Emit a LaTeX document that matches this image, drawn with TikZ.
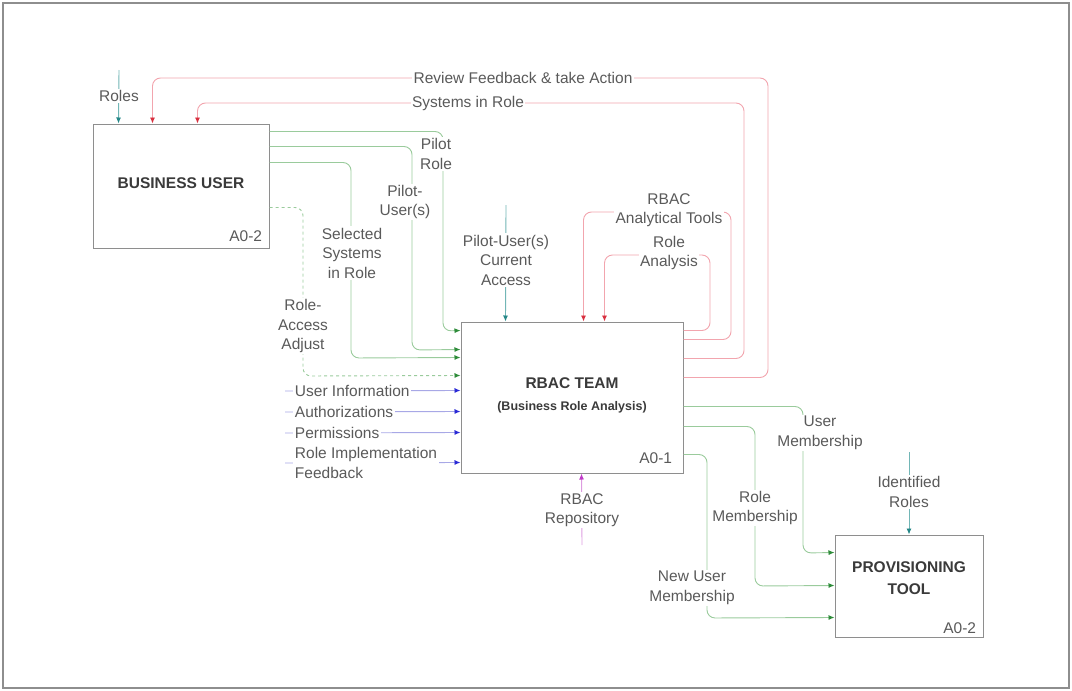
\documentclass[tikz,border=0pt]{standalone}
\usepackage{fontspec}
\setsansfont{Liberation Sans}
\usepackage{xcolor}
\usetikzlibrary{
	arrows.meta,
	positioning,
	calc}
\definecolor{fbline}{HTML}{F2A5AE}
\definecolor{fbtip}{HTML}{D8303F}
\definecolor{flowline}{HTML}{9ACB9C}
\definecolor{flowtip}{HTML}{2E8C3A}
\definecolor{inline}{HTML}{A8A8E6}
\definecolor{intip}{HTML}{2A2AD6}
\definecolor{ctrlline}{HTML}{72B6B6}
\definecolor{ctrltip}{HTML}{268888}
\definecolor{mechline}{HTML}{DD9CE0}
\definecolor{mechtip}{HTML}{C03CC8}
\definecolor{boxgray}{HTML}{8E8E8E}
\definecolor{labelgray}{HTML}{5A5A5A}
\definecolor{titlegray}{HTML}{3A3A3A}
\tikzset{
	idef/.style={
		x=1pt, y=-1pt,
		line width=.9pt,
		font=\sffamily\fontsize{15.5}{19.5}\selectfont,
		},
	tip length/.store in=\tlen,
	tip length = 6pt,
	tip width/.store in=\twid,
	tip width = 5pt,
	corner size/.store in=\csize,
	corner size = 8pt,
	activity/.style={
		draw = boxgray,
		fill = white,
		line width = 1pt,
		inner sep = 0pt
	},
	box title/.style={
		align = center,
		text = titlegray,
		font = \sffamily\bfseries\fontsize{15.5}{23}\selectfont
	},
	box number/.style={
		anchor = base east,
		inner sep = 0pt,
		text = labelgray
	},
	arrow label/.style={
		fill = white,
		inner sep = 1.5pt,
		align = center,
		text = labelgray
	},
	feedback arrow/.style={
		draw = fbline,
		rounded corners = \csize,
		-{Latex[length=\tlen, width=\twid, color=fbtip]}
	},
	flow arrow/.style={
		draw = flowline,
		rounded corners = \csize,
		-{Latex[length=\tlen, width=\twid, color=flowtip]}
	},
	input arrow/.style={
		draw = inline,
		-{Latex[length=\tlen, width=\twid, color=intip]}
	},
	control arrow/.style={
		draw = ctrlline,
		-{Latex[length=\tlen, width=\twid, color=ctrltip]}
	},
	mechanism arrow/.style={
		draw = mechline,
		-{Latex[length=\tlen, width=\twid, color=mechtip]}
	},
}

\begin{document}
\begin{tikzpicture}[idef]
	\useasboundingbox (0,0) rectangle (1072,691);
	\draw[boxgray, line width=2.5pt] (3,3) rectangle (1069,688);
%
	\node[activity, minimum width=176pt, minimum height=124pt] (bu)   at (181,186)   {};
	\node[activity, minimum width=222pt, minimum height=151pt] (rbac) at (572,397.5) {};
	\node[activity, minimum width=148pt, minimum height=102pt] (pt)   at (909,586)   {};
	\node[box title] (butitle)   at ($(bu.center)+(0,-3)$)   {BUSINESS USER};
	\node[box title] (rbactitle) at ($(rbac.center)+(0,-2)$) {RBAC TEAM\\[-1pt]{\fontsize{12.5}{15}\selectfont (Business Role Analysis)}};
	\node[box title] (pttitle)   at ($(pt.center)+(0,-8)$)   {PROVISIONING\\[-1pt]TOOL};
	\node[box number] (bunum)   at ($(bu.south east)+(-7,-7)$)    {A0-2};
	\node[box number] (rbacnum) at ($(rbac.south east)+(-11,-10)$) {A0-1};
	\node[box number] (ptnum)   at ($(pt.south east)+(-7,-4)$)    {A0-2};
%
	\coordinate (rolestop)   at (119,70);
	\coordinate (accesstop)  at (506,205);
	\coordinate (identtop)   at (909,452);
	\coordinate (repobottom) at (582,545);
	\coordinate (userin)     at (285,391);
	\coordinate (authin)     at (285,412);
	\coordinate (permin)     at (285,433);
	\coordinate (implin)     at (285,463);
%
	\draw[feedback arrow] ($(rbac.north east)+(0,56)$) -| (768,78)  -| ($(bu.north west)+(60,0)$);
	\draw[feedback arrow] ($(rbac.north east)+(0,37)$) -| (744,103) -| ($(bu.north west)+(105,0)$);
	\draw[feedback arrow] ($(rbac.north east)+(0,18)$) -| (731,212) -| ($(rbac.north west)+(123,0)$);
	\draw[feedback arrow] ($(rbac.north east)+(0,9)$)  -| (710,255) -| ($(rbac.north west)+(144,0)$);
%
	\draw[control arrow] (rolestop)  -- ($(bu.north west)+(26,0)$);
	\draw[control arrow] (accesstop) -- ($(rbac.north west)+(45,0)$);
	\draw[control arrow] (identtop)  -- (pt.north);
	\draw[mechanism arrow] (repobottom) -- ($(rbac.south west)+(121,0)$);
%
	\draw[flow arrow] ($(bu.north east)+(0,8)$)  -| (443,331) -- ($(rbac.north west)+(0,9)$);
	\draw[flow arrow] ($(bu.north east)+(0,23)$) -| (412,350) -- ($(rbac.north west)+(0,28)$);
	\draw[flow arrow] ($(bu.north east)+(0,39)$) -| (351,358) -- ($(rbac.north west)+(0,36)$);
	\draw[flow arrow, dash pattern=on 3pt off 3pt] ($(bu.north east)+(0,84)$) -| (303,376) -- ($(rbac.north west)+(0,54)$);
%
	\draw[input arrow] (userin) -- ($(rbac.north west)+(0,69)$);
	\draw[input arrow] (authin) -- ($(rbac.north west)+(0,90)$);
	\draw[input arrow] (permin) -- ($(rbac.north west)+(0,111)$);
	\draw[input arrow] (implin) -- ($(rbac.north west)+(0,141)$);
%
	\draw[flow arrow] ($(rbac.north east)+(0,85)$)  -| (803,553) -- ($(pt.north west)+(0,18)$);
	\draw[flow arrow] ($(rbac.north east)+(0,105)$) -| (755,586) -- ($(pt.north west)+(0,51)$);
	\draw[flow arrow] ($(rbac.north east)+(0,133)$) -| (707,618) -- ($(pt.north west)+(0,83)$);
%
	\node[arrow label] (lreview)    at (523,78)  {Review Feedback \& take Action};
	\node[arrow label] (lsystems)   at (468,103) {Systems in Role};
	\node[arrow label] (ltools)     at (669,210) {RBAC\\Analytical Tools};
	\node[arrow label] (lanalysis)  at (669,253) {Role\\Analysis};
	\node[arrow label] (laccess)    at (506,260) {Pilot-User(s)\\Current\\Access};
	\node[arrow label] (lroles)     at (119,96)  {Roles};
	\node[arrow label] (lpilotrole) at (436,154) {Pilot\\Role};
	\node[arrow label] (lpilotuser) at (405,202) {Pilot-\\User(s)};
	\node[arrow label] (lselected)  at (352,253) {Selected\\Systems\\in Role};
	\node[arrow label] (ladjust)    at (303,326) {Role-\\Access\\Adjust};
	\node[arrow label, anchor=west] (luser) at ($(userin)+(8,0)$) {User Information};
	\node[arrow label, anchor=west] (lauth) at ($(authin)+(8,0)$) {Authorizations};
	\node[arrow label, anchor=west] (lperm) at ($(permin)+(8,0)$) {Permissions};
	\node[arrow label, anchor=west, align=left] (limpl) at ($(implin)+(8,0)$) {Role Implementation\\Feedback};
	\node[arrow label] (lrepo)      at (582,510) {RBAC\\Repository};
	\node[arrow label] (lusermem)   at (820,433) {User\\Membership};
	\node[arrow label] (lrolemem)   at (755,508) {Role\\Membership};
	\node[arrow label] (lnewmem)    at (692,588) {New User\\Membership};
	\node[arrow label] (lident)     at (909,492) {Identified\\Roles};
\end{tikzpicture}
\end{document}
